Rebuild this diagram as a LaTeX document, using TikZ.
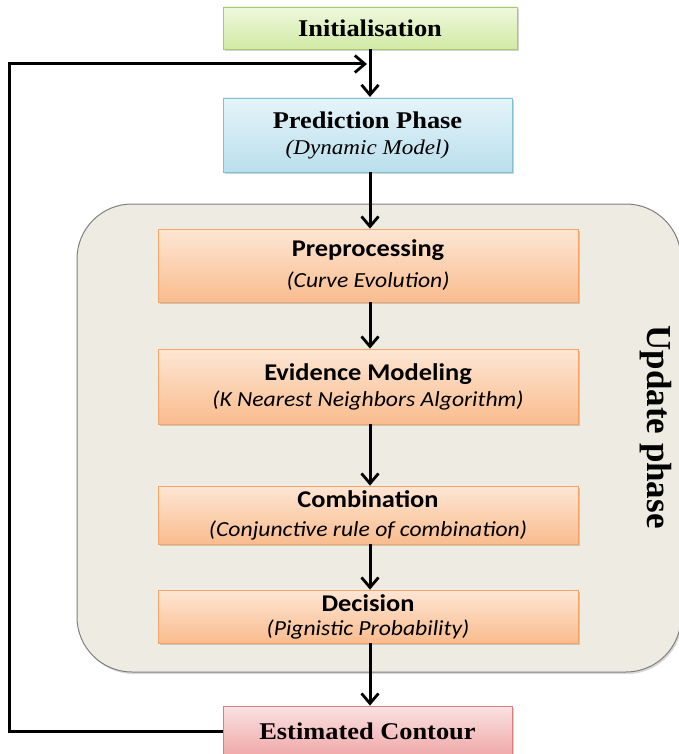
\documentclass[tikz,border=0pt]{standalone}
\usepackage{fontspec}
\setmainfont{Liberation Serif}
\newfontfamily\headserif[FakeStretch=1.1]{Liberation Serif}
\newfontfamily\boxfont[FakeStretch=1.1]{Carlito}
\usetikzlibrary{shadows,arrows.meta}

\definecolor{initTop}{HTML}{EEF8DC}
\definecolor{initBot}{HTML}{D2EAA6}
\definecolor{initLine}{HTML}{A9C873}
\definecolor{predTop}{HTML}{E6F4FA}
\definecolor{predBot}{HTML}{B9DFEC}
\definecolor{predLine}{HTML}{7FC0D6}
\definecolor{stepTop}{HTML}{FDE6D4}
\definecolor{stepBot}{HTML}{F9BC8E}
\definecolor{stepLine}{HTML}{F5A468}
\definecolor{outTop}{HTML}{FAE2E2}
\definecolor{outBot}{HTML}{F0A8A8}
\definecolor{outLine}{HTML}{D98080}
\definecolor{panelFill}{HTML}{EEECE2}
\definecolor{panelLine}{HTML}{7F7F7F}

\tikzset{
  x=1pt, y=-1pt,
  flowbox/.style={draw, line width=0.8pt, inner sep=0pt, align=center,
    drop shadow={shadow xshift=1.5pt, shadow yshift=-2pt, opacity=0.35}},
  greenbox/.style={flowbox, draw=initLine, top color=initTop, bottom color=initBot},
  bluebox/.style={flowbox, draw=predLine, top color=predTop, bottom color=predBot},
  orangebox/.style={flowbox, draw=stepLine, top color=stepTop, bottom color=stepBot,
    font=\boxfont\fontsize{24}{31}\selectfont},
  pinkbox/.style={flowbox, draw=outLine, top color=outTop, bottom color=outBot},
  flow/.style={line width=3pt, -{Straight Barb[length=10pt, width=17pt, line width=2.8pt]}},
  serifhead/.style={font=\headserif\fontsize{24}{30}\selectfont\bfseries},
}

\newcommand{\stephead}[1]{{\bfseries #1}}
\newcommand{\stepsub}[1]{{\fontsize{21.5}{31}\selectfont\itshape #1}}

\begin{document}
\begin{tikzpicture}
\useasboundingbox (0,0) rectangle (679,754);

% update phase panel
\node (panel) [draw=panelLine, line width=1pt, fill=panelFill, rounded corners=55pt,
  minimum width=604pt, minimum height=468pt, inner sep=0pt,
  drop shadow={shadow xshift=1.5pt, shadow yshift=-2pt, opacity=0.3}]
  at (379,438) {};
\node (label) [rotate=-90, font=\fontsize{35}{38}\selectfont\bfseries] at (656,427) {Update phase};

% main boxes
\node (init) [greenbox, serifhead, minimum width=294pt, minimum height=42pt] at (370,28)
  {Initialisation};
\node (pred) [bluebox, serifhead, minimum width=289pt, minimum height=74pt] at (367.5,135)
  {\raisebox{-4pt}{Prediction Phase}\\
   {\mdseries\itshape\fontsize{21}{30}\selectfont (Dynamic Model)}};

\node (pre) [orangebox, minimum width=420pt, minimum height=73pt] at (368,265.5)
  {\stephead{Preprocessing}\\\stepsub{(Curve Evolution)}};
\node (evid) [orangebox, minimum width=420pt, minimum height=75pt] at (368,386.5)
  {\raisebox{-5pt}{\stephead{Evidence Modeling}}\\\stepsub{(K Nearest Neighbors Algorithm)}};
\node (comb) [orangebox, font=\boxfont\fontsize{24}{29}\selectfont,
  minimum width=420pt, minimum height=58pt] at (368,515)
  {\stephead{Combination}\\\stepsub{(Conjunctive rule of combination)}};
\node (dec) [orangebox, font=\boxfont\fontsize{24}{27}\selectfont,
  minimum width=420pt, minimum height=53pt] at (368,616.5)
  {\raisebox{-3pt}{\stephead{Decision}}\\\stepsub{(Pignistic Probability)}};

\node (est) [pinkbox, serifhead, minimum width=289pt, minimum height=50pt] at (367.5,731)
  {Estimated Contour};

% connectors
\coordinate (inA) at (370,49);
\draw[flow] (inA) -- (370,97);
\draw[flow] (370,172) -- (pre.north -| 370,0);
\draw[flow] (pre.south -| 370,0) -- (evid.north -| 370,0);
\draw[flow] (evid.south -| 370,0) -- (comb.north -| 370,0);
\draw[flow] (comb.south -| 370,0) -- (dec.north -| 370,0);
\draw[flow] (dec.south -| 370,0) -- (est.north -| 370,0);

% feedback loop
\coordinate (loopEnd) at (367,64);
\draw[flow] (est.west) -- (9,731) -- (9,64) -- (loopEnd);
\end{tikzpicture}
\end{document}
